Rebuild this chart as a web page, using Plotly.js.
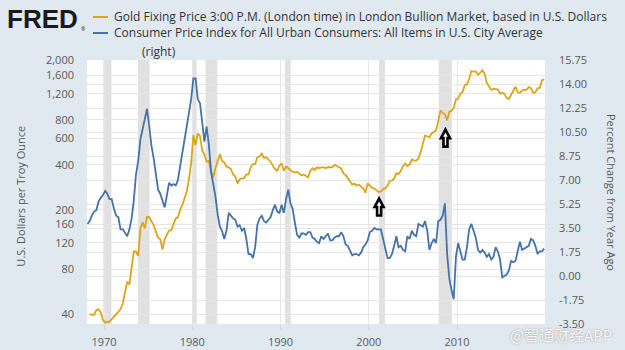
<!DOCTYPE html>
<html><head><meta charset="utf-8">
<script src="https://cdn.plot.ly/plotly-3.0.1.min.js"></script>
<style>html,body{margin:0;padding:0;background:#e1e9f0;}#chart{width:625px;height:350px;}</style>
</head><body><div id="chart"></div>
<script>
// ---- data (quarterly) ----
const goldStart = [1968, 2];   // first quarter of gold series
const cpiStart = [1968, 1];    // first quarter of CPI series
const goldUSD = [
  40, 39.5, 39.5,
  42.5, 43, 41, 36.5,
  35, 35.5, 35.5, 37,
  38.5, 40, 42, 43,
  47, 56, 66, 63,
  80, 105, 105, 98,
  150, 165, 150, 180,
  178, 167, 158, 142,
  130, 127, 108, 127,
  135, 145, 146, 160,
  175, 178, 200, 215,
  240, 265, 320, 410,
  631, 544, 649, 625,
  500, 470, 420, 425,
  360, 330, 380, 430,
  470, 425, 415, 390,
  385, 375, 345, 335,
  300, 320, 325, 325,
  345, 345, 385, 405,
  405, 450, 455, 475,
  445, 450, 435, 420,
  395, 375, 365, 395,
  410, 365, 390, 380,
  365, 360, 355, 360,
  350, 340, 345, 335,
  330, 365, 380, 370,
  385, 380, 385, 385,
  380, 387, 385, 385,
  400, 390, 385, 378,
  350, 342, 325, 305,
  295, 300, 290, 295,
  287, 278, 260, 300,
  290, 280, 277, 268,
  263, 265, 275, 278,
  290, 312, 314, 323,
  352, 347, 363, 392,
  408, 393, 401, 434,
  427, 427, 440, 485,
  555, 628, 622, 613,
  650, 667, 680, 788,
  925, 896, 870, 795,
  908, 922, 960, 1100,
  1109, 1197, 1227, 1367,
  1386, 1506, 1702, 1688,
  1691, 1609, 1652, 1722,
  1632, 1415, 1326, 1272,
  1293, 1288, 1282, 1201,
  1218, 1192, 1124, 1106,
  1183, 1260, 1335, 1222,
  1219, 1257, 1278, 1275,
  1329, 1306, 1213, 1226,
  1304, 1310, 1472, 1500
];
const cpiYoY = [
  3.8, 4.0, 4.4, 4.7,
  4.8, 5.4, 5.7, 5.9,
  6.2, 6.0, 5.6, 5.6,
  4.9, 4.4, 4.3, 3.4,
  3.4, 3.1, 2.9, 3.4,
  4.2, 5.5, 7.4, 8.4,
  10.0, 10.7, 11.5, 12.2,
  10.9, 9.5, 8.6, 7.3,
  6.3, 6.0, 5.5, 5.0,
  5.9, 6.8, 6.6, 6.7,
  6.6, 7.0, 8.0, 8.9,
  9.9, 10.9, 11.9, 12.9,
  14.4, 14.4, 12.9, 12.6,
  11.2, 9.8, 10.9, 9.6,
  7.6, 6.8, 5.8, 4.5,
  3.6, 3.3, 2.7, 3.3,
  4.6, 4.4, 4.2, 4.1,
  3.6, 3.7, 3.3, 3.5,
  2.7, 1.6, 1.6, 1.3,
  2.1, 3.7, 4.2, 4.4,
  4.0, 3.9, 4.1, 4.3,
  4.8, 5.2, 4.7, 4.6,
  5.2, 4.6, 5.6, 6.3,
  5.3, 4.9, 3.9, 3.0,
  2.8, 3.1, 3.1, 3.0,
  3.2, 3.2, 2.8, 2.7,
  2.5, 2.4, 2.9, 2.7,
  2.9, 3.1, 2.6, 2.6,
  2.8, 2.9, 2.9, 3.2,
  2.9, 2.3, 2.2, 1.9,
  1.5, 1.6, 1.6, 1.5,
  1.7, 2.1, 2.3, 2.6,
  3.2, 3.3, 3.5, 3.4,
  3.4, 3.4, 2.7, 1.9,
  1.3, 1.3, 1.6, 2.2,
  2.9, 2.1, 2.2, 1.9,
  1.8, 2.9, 2.7, 3.3,
  3.0, 2.9, 3.8, 3.7,
  3.6, 4.0, 3.3, 1.9,
  2.4, 2.7, 2.4, 4.0,
  4.1, 4.4, 5.3, 1.6,
  -0.2, -1.0, -1.7, 1.4,
  2.4, 1.8, 1.2, 1.2,
  2.1, 3.4, 3.8, 3.3,
  2.8, 1.9, 1.7, 1.9,
  1.7, 1.4, 1.6, 1.2,
  1.4, 2.1, 1.8, 1.2,
  -0.1, 0.0, 0.1, 0.4,
  1.1, 1.0, 1.1, 1.8,
  2.5, 1.9, 2.0, 2.1,
  2.2, 2.7, 2.6, 2.2,
  1.6, 1.8, 1.8, 2.0
];
const recessionStart = ['1969-12-01','1973-11-01','1980-01-01','1981-07-01','1990-07-01','2001-03-01','2007-12-01'];
const recessionEnd   = ['1970-11-01','1975-03-01','1980-07-01','1982-11-01','1991-03-01','2001-11-01','2009-06-01'];
const leftTickVals = [40, 80, 120, 160, 200, 400, 600, 800, 1200, 1600, 2000];
const leftTickText = ['40','80','120','160','200','400','600','800','1,200','1,600','2,000'];
const rightTickVals = [-3.5, -1.75, 0, 1.75, 3.5, 5.25, 7, 8.75, 10.5, 12.25, 14, 15.75];
const xTickYears = [1970, 1980, 1990, 2000, 2010];
const arrowDates = ['2001-03-01', '2008-09-08'];
const arrowPaperY = [0.445, 0.706];

const goldName = 'Gold Fixing Price 3:00 P.M. (London time) in London Bullion Market, based in U.S. Dollars';
const cpiName = 'Consumer Price Index for All Urban Consumers: All Items in U.S. City Average';

function quarterDates(start, n) {
  const out = []; let y = start[0], q = start[1];
  for (let i = 0; i < n; i++) {
    const m = (q - 1) * 3 + 2;
    out.push(y + '-' + String(m).padStart(2, '0') + '-15');
    q++; if (q > 4) { q = 1; y++; }
  }
  return out;
}

const GOLD = '#d9a61a', BLUE = '#4572a7', GRID = '#e6e6e6', TICK = '#5a5a5a';
const FONT = 'Open Sans, sans-serif';

const traces = [
  {x: quarterDates(goldStart, goldUSD.length), y: goldUSD, type: 'scatter', mode: 'lines', name: goldName,
   line: {color: GOLD, width: 1.8}, yaxis: 'y'},
  {x: quarterDates(cpiStart, cpiYoY.length), y: cpiYoY, type: 'scatter', mode: 'lines', name: cpiName,
   line: {color: BLUE, width: 1.8}, yaxis: 'y2'}
];

const shapes = recessionStart.map((s, i) => ({type: 'rect', xref: 'x', yref: 'paper', x0: s, x1: recessionEnd[i],
  y0: 0, y1: 1, fillcolor: '#e1e1e1', line: {width: 0}, layer: 'below'}));
// legend swatches
shapes.push({type: 'line', xref: 'paper', yref: 'paper', x0: 0.0131, x1: 0.0459, y0: 1.1629, y1: 1.1629, line: {color: GOLD, width: 2}});
shapes.push({type: 'line', xref: 'paper', yref: 'paper', x0: 0.0131, x1: 0.0459, y0: 1.1023, y1: 1.1023, line: {color: BLUE, width: 2}});
// arrows
arrowDates.forEach((d, i) => shapes.push({type: 'path', xref: 'x', yref: 'paper', xsizemode: 'pixel', ysizemode: 'pixel',
  xanchor: d, yanchor: arrowPaperY[i],
  path: 'M0,8 L4.5,-0.5 L2,-0.5 L2,-9 L-2,-9 L-2,-0.5 L-4.5,-0.5 Z',
  fillcolor: 'white', line: {color: 'black', width: 2.6}, layer: 'above'}));

const annotations = [
  {text: '<b>FRED</b>', xref: 'paper', yref: 'paper', x: -0.179, y: 1.155, xanchor: 'left', yanchor: 'middle', showarrow: false,
   font: {family: 'Liberation Sans, Arial, sans-serif', size: 26, color: '#1a1a1a'}},
  {text: '®', xref: 'paper', yref: 'paper', x: -0.017, y: 1.118, xanchor: 'left', yanchor: 'middle', showarrow: false,
   font: {family: FONT, size: 5, color: '#1a1a1a'}},
  {text: goldName, xref: 'paper', yref: 'paper', x: 0.0546, y: 1.1629, xanchor: 'left', yanchor: 'middle', showarrow: false,
   font: {family: FONT, size: 12, color: '#333'}},
  {text: cpiName, xref: 'paper', yref: 'paper', x: 0.0546, y: 1.1023, xanchor: 'left', yanchor: 'middle', showarrow: false,
   font: {family: FONT, size: 12, color: '#333'}},
  {text: '(right)', xref: 'paper', yref: 'paper', x: 0.1157, y: 1.034, xanchor: 'left', yanchor: 'middle', showarrow: false,
   font: {family: FONT, size: 12, color: '#333'}},
  {text: 'U.S. Dollars per Troy Ounce', xref: 'paper', yref: 'paper', x: -0.1448, y: 0.485, xanchor: 'center', yanchor: 'middle',
   textangle: -90, showarrow: false, font: {family: FONT, size: 11, color: TICK}},
  {text: 'Percent Change from Year Ago', xref: 'paper', yref: 'paper', x: 1.1463, y: 0.5, xanchor: 'center', yanchor: 'middle',
   textangle: 90, showarrow: false, font: {family: FONT, size: 11, color: TICK}},
  {text: '@智通财经APP', xref: 'paper', yref: 'paper', x: 0.919, y: -0.038, xanchor: 'left', yanchor: 'middle', showarrow: false,
   font: {family: 'Noto Sans CJK SC, sans-serif', size: 15, color: 'rgba(255,255,255,0.9)', shadow: '0 0 2px #8c8c8c'}}
];

const layout = {
  width: 625, height: 350,
  margin: {l: 87, r: 80, t: 60, b: 26, pad: 0},
  paper_bgcolor: '#e1e9f0', plot_bgcolor: '#ffffff',
  showlegend: false,
  font: {family: FONT, size: 11, color: TICK},
  xaxis: {type: 'date', range: ['1968-01-26', '2019-12-19'],
    tickvals: xTickYears.map(y => y + '-01-01'), ticktext: xTickYears.map(String),
    showgrid: true, gridcolor: GRID, zeroline: false, showline: false,
    ticks: 'outside', ticklen: 4, tickcolor: '#ccd6eb', ticklabelstandoff: 4,
    tickfont: {family: FONT, size: 11, color: TICK}},
  yaxis: {type: 'log', range: [1.535, 3.305], tickvals: leftTickVals, ticktext: leftTickText,
    showgrid: true, gridcolor: GRID, zeroline: false, showline: false, ticks: '', ticklabelstandoff: 12,
    tickfont: {family: FONT, size: 11, color: TICK}},
  yaxis2: {overlaying: 'y', side: 'right', range: [-3.5, 15.75], tickvals: rightTickVals,
    ticktext: rightTickVals.map(v => v.toFixed(2)),
    showgrid: true, gridcolor: GRID, zeroline: false, showline: false, ticks: '', ticklabelstandoff: 13,
    tickfont: {family: FONT, size: 11, color: TICK}},
  shapes: shapes,
  annotations: annotations
};

Plotly.newPlot('chart', traces, layout, {displayModeBar: false, staticPlot: true});
</script>
</body></html>
